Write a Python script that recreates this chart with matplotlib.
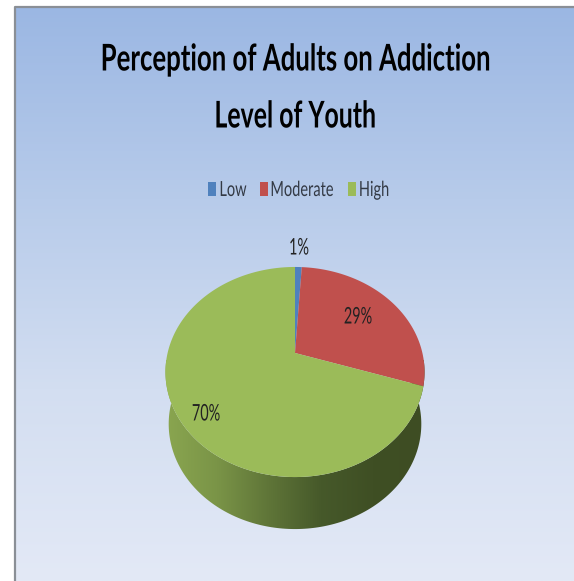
import numpy as np
import matplotlib
matplotlib.use('Agg')
import matplotlib.pyplot as plt
from matplotlib.colors import LinearSegmentedColormap
from matplotlib.patches import Polygon, Rectangle
from matplotlib.patheffects import AbstractPathEffect
from matplotlib.transforms import Affine2D

categories = ['Low', 'Moderate', 'High']
values = [1, 29, 70]
labels = ['1%', '29%', '70%']
colors = ['#4F81BD', '#C0504D', '#9BBB59']
title_lines = ['Perception of Adults on Addiction', 'Level of Youth']

plt.rcParams['font.family'] = ['Lato', 'DejaVu Sans']


class Squeeze(AbstractPathEffect):
    # the original picture is squashed sideways, so narrow the glyphs round x0
    def __init__(self, k, x0):
        super().__init__()
        self.k = k
        self.x0 = x0

    def draw_path(self, renderer, gc, tpath, affine, rgbFace=None):
        sq = Affine2D().translate(-self.x0, 0).scale(self.k, 1).translate(self.x0, 0)
        renderer.draw_path(gc, tpath, affine + sq, rgbFace)


def squeezed(ax, x, y, s, k, **kw):
    txt = ax.text(x, y, s, ha='center', va='center', **kw)
    txt.set_path_effects([Squeeze(k, x)])
    return txt


W, H = 574, 581
fig = plt.figure(figsize=[W/100, H/100], dpi=100)
ax = fig.add_axes([0, 0, 1, 1])
ax.axis('off')

# panel background
bg = LinearSegmentedColormap.from_list('bg', ['#9BB7E3', '#B7CBEA', '#D3DEF1', '#E3E9F6'])
ax.imshow(np.linspace(0, 1, 256)[:, None], cmap=bg, extent=[15, W, H, 7], aspect='auto', zorder=0)
ax.plot([14.5, 14.5, W], [H, 7, 7], color='#8A8F96', lw=1.6, zorder=1)

# pie in perspective: circle coords -> screen
cx, cy = 295, 353
a, b, c = 101.6, 0.181, 127.4

def project(t):
    # t is clockwise from the top, radians
    x, y = np.sin(t), np.cos(t)
    return cx + c*x/(1 + b*y), cy - a*y/(1 + b*y)

# side wall
depth = 52
t = np.radians(np.linspace(285, 75, 200))
xt, yt = project(t)
xb = cx + (xt - cx)*0.975
yb = yt + depth
side = Polygon(np.column_stack([np.r_[xt, xb[::-1]], np.r_[yt, yb[::-1]]]), closed=True,
               fc='none', ec='none')
ax.add_patch(side)
side_cmap = LinearSegmentedColormap.from_list('side', ['#8AA650', '#7A9447', '#5F7538', '#46592A', '#3F4F24', '#3E4D23'])
im = ax.imshow(np.linspace(0, 1, 256)[None, :], cmap=side_cmap, extent=[165, 425, 535, 360], aspect='auto', zorder=2)
im.set_clip_path(side)

# top slices
start = 0
total = sum(values)
for v, col in zip(values, colors):
    t = np.linspace(start, start + v/total*2*np.pi, max(int(v*4), 4))
    x, y = project(t)
    ax.fill(np.r_[cx, x], np.r_[cy, y], color=col, lw=0, zorder=3)
    start += v/total*2*np.pi

ax.set_xlim(0, W)
ax.set_ylim(H, 0)

squeezed(ax, 295, 60, title_lines[0], 0.70, fontsize=26.5, fontweight='bold', color='black', zorder=5)
squeezed(ax, 295, 117, title_lines[1], 0.675, fontsize=26.5, fontweight='bold', color='black', zorder=5)

# legend
sx = [207.5, 259.5, 348]
tc = [233, 302, 374]
for i, cat in enumerate(categories):
    ax.add_patch(Rectangle((sx[i], 182), 8, 14, fc=colors[i], ec='none', zorder=4))
    squeezed(ax, tc[i], 190, cat, 0.7, fontsize=15, color='#333a45', zorder=5)

# value labels
pos = [(299, 248), (358, 317), (206, 414)]
for (px, py), s in zip(pos, labels):
    squeezed(ax, px, py, s, 0.63, fontsize=16.5, color='#222222', zorder=5)

fig.savefig('out.png', dpi=100)
